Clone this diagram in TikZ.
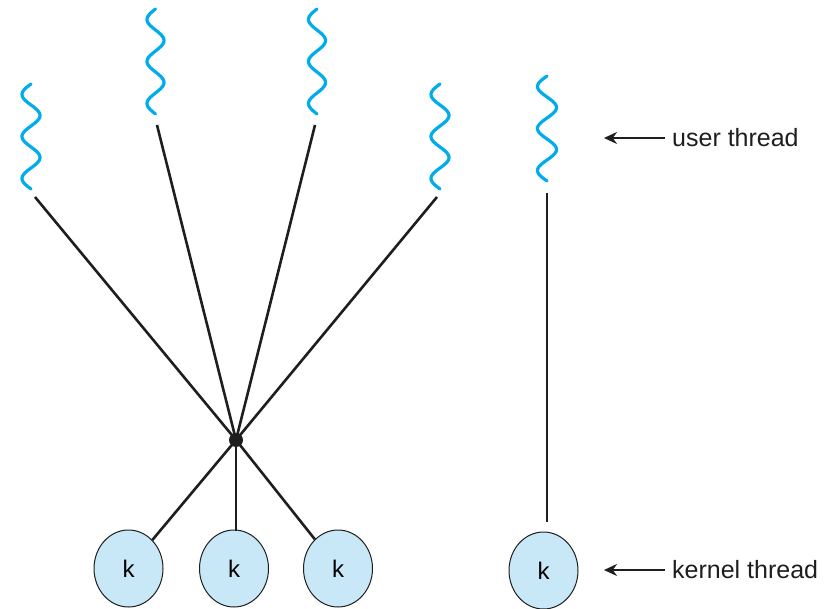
\documentclass[tikz,border=0pt]{standalone}
\usepackage{fontspec}
\setmainfont{Liberation Sans}
\usetikzlibrary{shapes.geometric,arrows.meta}
\definecolor{wavecyan}{RGB}{0,172,236}
\definecolor{kfill}{RGB}{200,232,248}
\definecolor{ink}{RGB}{30,30,30}
\tikzset{
  wave/.style={draw=wavecyan,line width=3.2pt,line cap=round},
  link/.style={draw=ink,line width=2.6pt},
  knode/.style={ellipse,draw=ink,line width=1pt,fill=kfill,minimum width=69pt,minimum height=77pt,inner sep=0pt,font=\fontsize{24}{26}\selectfont},
  hubdot/.style={circle,fill=ink,inner sep=0pt,minimum size=14pt},
  lbl/.style={anchor=west,inner sep=0pt,font=\fontsize{25}{28}\selectfont,text=ink},
  pointer/.style={draw=ink,line width=2.2pt,-{Stealth[length=13pt,width=12pt]}}
}
\newcommand{\threadwave}[3]{% center x, top y, amplitude
  \draw[wave] plot[domain=0:105,samples=90,smooth] ({#1-#3*sin(8.5714*\x)},{#2+\x});
}
\begin{document}
\begin{tikzpicture}[x=1pt,y=-1pt]
\useasboundingbox (0,0) rectangle (824,609);
% user threads (wavy)
\threadwave{31}{84}{9}
\threadwave{155.5}{9}{8.5}
\threadwave{317}{9}{8.5}
\threadwave{440}{84}{9}
\threadwave{547}{76}{9.5}
% thread line ends
\coordinate (u1) at (35,197);
\coordinate (u2) at (157,125);
\coordinate (u3) at (315,125);
\coordinate (u4) at (437,197);
\coordinate (u5) at (547,193);
% hub
\node[hubdot] (hub) at (236,440) {};
% kernel threads
\node[knode] (k1) at (128.5,568.5) {k};
\node[knode] (k2) at (234,568.5) {k};
\node[knode] (k3) at (338,568.5) {k};
\node[knode] (k4) at (543.5,570.5) {k};
\coordinate (k2top) at (236,530.5);
\coordinate (k4top) at (547,532.5);
% connectors
\draw[link] (u1) -- (hub.center);
\draw[link] (u2) -- (hub.center);
\draw[link] (u3) -- (hub.center);
\draw[link] (u4) -- (hub.center);
\draw[link] (hub.center) -- (k1);
\draw[link] (hub.center) -- (k2top);
\draw[link] (hub.center) -- (k3);
\draw[link] (u5) -- ++(0,329);
% labels
\node[lbl] (ulbl) at (672,138) {user thread};
\node[lbl] (klbl) at (672,570) {kernel thread};
\coordinate (ua) at (604,138);
\coordinate (ka) at (604,570);
\draw[pointer] (ulbl.west) ++(-7,0) -- (ua);
\draw[pointer] (klbl.west) ++(-7,0) -- (ka);
\end{tikzpicture}
\end{document}
